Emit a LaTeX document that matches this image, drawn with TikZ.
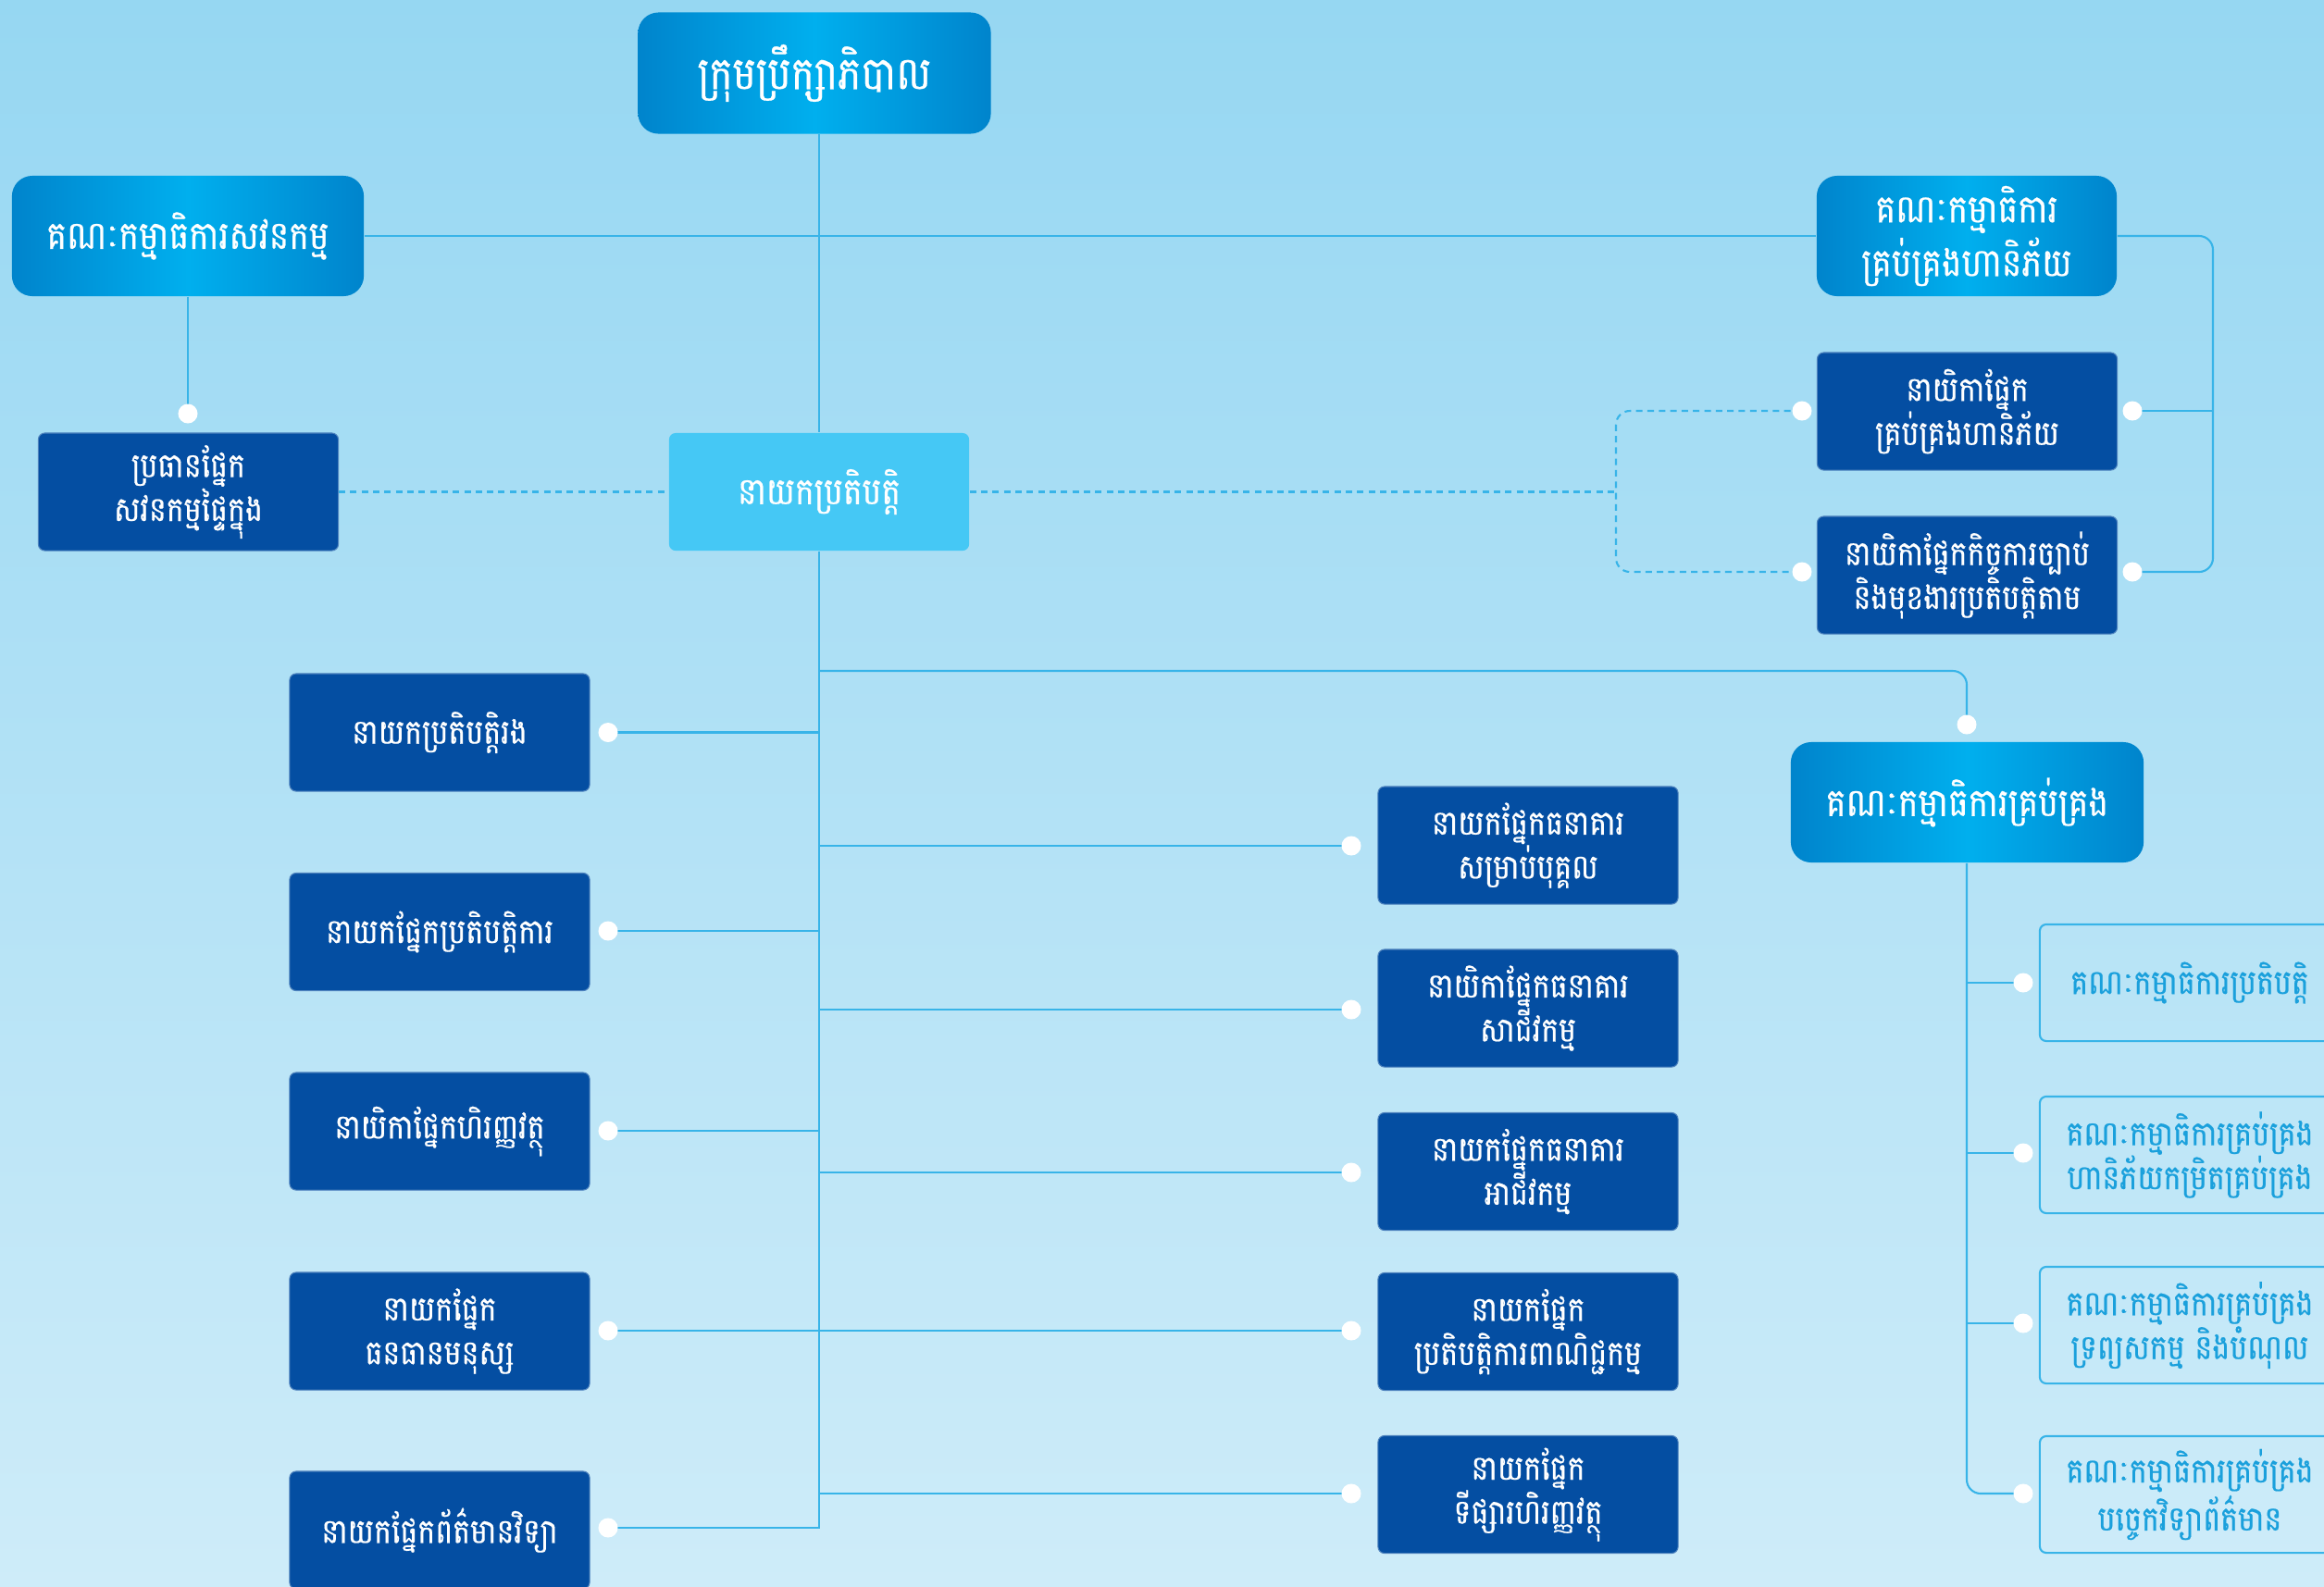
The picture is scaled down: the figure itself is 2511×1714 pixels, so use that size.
\documentclass[tikz,border=0pt]{standalone}
\usepackage{fontspec}
\setmainfont[Script=Khmer, FakeStretch=0.86, FakeBold=0.5]{Battambang}
\definecolor{bgtop}{RGB}{150,215,242}
\definecolor{bgbot}{RGB}{206,236,249}
\definecolor{gedge}{RGB}{0,132,204}
\definecolor{gmid}{RGB}{0,175,238}
\definecolor{dblue}{RGB}{4,78,162}
\definecolor{ceoblue}{RGB}{69,200,245}
\definecolor{lineblue}{RGB}{56,180,232}
\definecolor{otext}{RGB}{26,160,220}
\tikzset{
  gbox/.style={rectangle, rounded corners=0.22cm, left color=gedge, right color=gedge, middle color=gmid,
     text=white, align=center, inner sep=0pt, font=\fontsize{12}{16.5}\selectfont},
  dbox/.style={rectangle, rounded corners=0.07cm, fill=dblue, draw=dblue!70!white, line width=0.3pt, text=white, align=center,
     minimum width=3.24cm, minimum height=1.27cm, inner sep=0pt, font=\fontsize{10.5}{13.5}\selectfont},
  cbox/.style={rectangle, rounded corners=0.07cm, fill=ceoblue, text=white, align=center,
     minimum width=3.24cm, minimum height=1.27cm, inner sep=0pt, font=\fontsize{11.5}{15}\selectfont},
  obox/.style={rectangle, rounded corners=0.07cm, draw=lineblue, line width=0.6pt, text=otext, align=center,
     minimum width=3.24cm, minimum height=1.26cm, inner sep=0pt, font=\fontsize{10.5}{13.5}\selectfont},
  wdot/.style={circle, fill=white, minimum size=0.21cm, inner sep=0pt},
  conn/.style={draw=lineblue, line width=0.6pt},
  dconn/.style={draw=lineblue, line width=0.6pt, dash pattern=on 2pt off 1.5pt},
}
\begin{document}
\begin{tikzpicture}[x=0.01cm, y=-0.01cm]
\useasboundingbox (0,0) rectangle (2511,1714);
\clip (0,0) rectangle (2511,1714);
\shade[top color=bgtop, bottom color=bgbot] (0,0) rectangle (2511,1714);

% bus coordinates
\coordinate (trunk) at (885,0);
\coordinate (rbus) at (2391,0);
\coordinate (dbus) at (1746,0);
\coordinate (mbus) at (2125,0);

\node[gbox, minimum width=3.81cm, minimum height=1.31cm, font=\fontsize{14}{18}\selectfont] (board) at (880,79) {ក្រុមប្រឹក្សាភិបាល};
\node[gbox, minimum width=3.80cm, minimum height=1.30cm] (audit) at (203,255) {គណៈកម្មាធិការសវនកម្ម};
\node[gbox, minimum width=3.24cm, minimum height=1.30cm] (riskc) at (2125,255) {គណៈកម្មាធិការ\\គ្រប់គ្រងហានិភ័យ};
\node[dbox] (iaudit) at (203.5,531.5) {ប្រធានផ្នែក\\សវនកម្មផ្ទៃក្នុង};
\node[cbox] (ceo) at (885,531.5) {នាយកប្រតិបត្តិ};
\node[dbox] (riskh) at (2125.5,444.5) {នាយិកាផ្នែក\\គ្រប់គ្រងហានិភ័យ};
\node[dbox] (legal) at (2125.5,621.5) {នាយិកាផ្នែកកិច្ចការច្បាប់\\និងមុខងារប្រតិបត្តិតាម};
\node[gbox, minimum width=3.81cm, minimum height=1.30cm] (mgmt) at (2125.5,867) {គណៈកម្មាធិការគ្រប់គ្រង};

\node[dbox] (dep) at (475,791.5) {នាយកប្រតិបត្តិរង};
\node[dbox] (ops) at (475,1007) {នាយកផ្នែកប្រតិបត្តិការ};
\node[dbox] (fin) at (475,1222.5) {នាយិកាផ្នែកហិរញ្ញវត្ថុ};
\node[dbox] (hr) at (475,1438.5) {នាយកផ្នែក\\ធនធានមនុស្ស};
\node[dbox] (it) at (475,1653.5) {នាយកផ្នែកព័ត៌មានវិទ្យា};

\node[dbox] (pb) at (1651,913.5) {នាយកផ្នែកធនាគារ\\សម្រាប់បុគ្គល};
\node[dbox] (cb) at (1651,1089.5) {នាយិកាផ្នែកធនាគារ\\សាជីវកម្ម};
\node[dbox] (bb) at (1651,1266) {នាយកផ្នែកធនាគារ\\អាជីវកម្ម};
\node[dbox] (tr) at (1651,1439) {នាយកផ្នែក\\ប្រតិបត្តិការពាណិជ្ជកម្ម};
\node[dbox] (fm) at (1651,1615) {នាយកផ្នែក\\ទីផ្សារហិរញ្ញវត្ថុ};

\node[obox] (oc1) at (2366,1062) {គណៈកម្មាធិការប្រតិបត្តិ};
\node[obox] (oc2) at (2366,1248) {គណៈកម្មាធិការគ្រប់គ្រង\\ហានិភ័យកម្រិតគ្រប់គ្រង};
\node[obox] (oc3) at (2366,1432) {គណៈកម្មាធិការគ្រប់គ្រង\\ទ្រព្យសកម្ម និងបំណុល};
\node[obox] (oc4) at (2366,1615) {គណៈកម្មាធិការគ្រប់គ្រង\\បច្ចេកវិទ្យាព័ត៌មាន};

% connectors
\draw[conn] (audit.east) -- (riskc.west);
\draw[conn] (board.south -| trunk) -- (ceo.north -| trunk);
\draw[conn] (audit.south) -- (203,447) coordinate (daudit);
\draw[conn, rounded corners=0.15cm] (riskc.east) -- (riskc.east -| rbus) -- (2391,618) -- (2304,618);
\draw[conn] (2304,444) -- (2391,444);

\draw[dconn] (iaudit.east) -- (ceo.west);
\draw[dconn] (ceo.east) -- (ceo.east -| dbus);
\draw[dconn, rounded corners=0.15cm] (1947,444) -- (1746,444) -- (1746,618) -- (1947,618);

\draw[conn] (ceo.south) -- (885,1651) -- (657,1651);
\foreach \y in {791.5,1006,1222} \draw[conn] (657,\y) -- (885,\y);
\draw[conn] (657,1438) -- (1460,1438);
\foreach \y in {914,1091,1267,1614} \draw[conn] (885,\y) -- (1460,\y);

\draw[conn, rounded corners=0.15cm] (885,725) -- (2125,725) -- (2125,783);
\draw[conn, rounded corners=0.15cm] (mgmt.south -| mbus) -- (2125,1614) -- (2186,1614);
\foreach \y in {1062,1246,1430} \draw[conn] (2125,\y) -- (2186,\y);

% dots
\node[wdot] at (daudit) {};
\node[wdot] (dr1) at (2304,444) {};
\node[wdot] (dr2) at (2304,618) {};
\node[wdot] (dl1) at (1947,444) {};
\node[wdot] (dl2) at (1947,618) {};
\node[wdot] (dm) at (2125,783) {};
\foreach \y/\n in {791.5/a,1006/b,1222/c,1438/d,1651/e} \node[wdot] (dL\n) at (657,\y) {};
\foreach \y/\n in {914/a,1091/b,1267/c,1438/d,1614/e} \node[wdot] (dM\n) at (1460,\y) {};
\foreach \y/\n in {1062/a,1246/b,1430/c,1614/d} \node[wdot] (dR\n) at (2186,\y) {};
\end{tikzpicture}
\end{document}
